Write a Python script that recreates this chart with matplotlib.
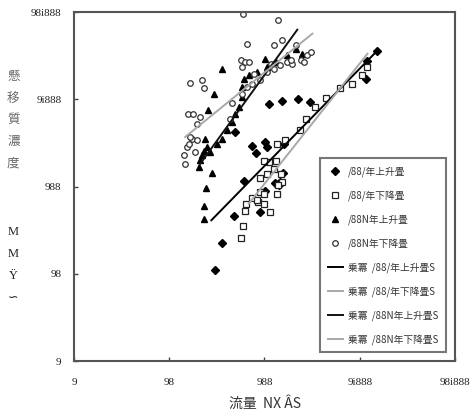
# Grafico de caudal vs concentracion de sedimentos (escala log-log).
import numpy as np
import matplotlib
matplotlib.use('Agg')
from matplotlib import pyplot as plt

# Datos: serie 1 (rombos, subida /88/)
q1 = [30.5, 36.1, 47.5, 60.6, 74.1, 82.4, 101, 107, 111, 153, 224, 298, 90.8, 101,
      128, 142, 157, 147, 1175, 1535, 1205, 49.5, 160]
c1 = [11.2, 22.8, 46.1, 117, 292, 243, 325, 285, 877, 957, 1009, 932, 51.3, 89.2,
      110, 105, 143, 113, 1694, 3575, 2723, 423, 311]

# Serie 2 (cuadrados, bajada /88/)
q2 = [57.3, 59.2, 62.1, 64.7, 74.1, 85.8, 90.8, 89.3, 98.4, 114, 107, 111, 98.4, 132,
      136, 166, 150, 153, 136, 138, 235, 270, 336, 446, 616, 824, 1050, 1205, 98.4,
      125, 83.7]
c2 = [25.6, 35.1, 52.7, 62.8, 74.8, 66.7, 86.9, 127, 62.8, 50.8, 141, 192, 195, 197,
      311, 339, 138, 113, 83.2, 104, 442, 601, 817, 1035, 1360, 1511, 1882, 2344, 83.2,
      161, 69.8]

# Serie 3 (triangulos, subida /88N)
q3 = [23.4, 23.0, 24.5, 28.1, 23.4, 23.9, 25.3, 29.3, 35.8, 101, 20.7, 21.2, 22.1,
      27.0, 31.8, 35.8, 40.5, 45.7, 49.5, 53.7, 58.2, 58.2, 60.6, 68.4, 83.7, 107, 131,
      173, 212, 249, 24.9]
c3 = [42.6, 60.6, 97.5, 143, 256, 355, 748, 1161, 2244, 2923, 168, 200, 228, 249,
      311, 355, 442, 550, 685, 817, 1064, 1384, 1725, 1882, 2056, 2344, 2675, 3190,
      3802, 3334, 285]

# Serie 4 (circulos, bajada /88N)
q4 = [59.6, 139, 65.7, 151, 127, 16.6, 22.1, 23.4, 15.6, 17.8, 21.2, 19.6, 14.2, 14.7,
      15.3, 17.3, 18.8, 16.0, 19.6, 16.6, 45.7, 43.9, 57.3, 63.1, 68.4, 58.2, 77.2, 90.8,
      107, 125, 147, 173, 196, 239, 259, 281, 305, 212, 58.2, 65.7, 74.1, 116, 188]
c4 = [9400, 8035, 4340, 4740, 4227, 1538, 1650, 1360, 685, 685, 628, 526, 228, 183,
      285, 355, 249, 311, 339, 370, 908, 601, 2797, 2675, 2675, 2344, 1968, 1650, 2056,
      2244, 2449, 2675, 2560, 2797, 2675, 3190, 3483, 4150, 1161, 1384, 1511, 2560, 2797]

# Ajustes potenciales c = a * q^b y su rango de caudal
fit_a = [1.01, 0.188, 1.83, 34.1]
fit_b = [1.116, 1.379, 1.508, 0.887]
fit_q0 = [27.7, 68.4, 21.2, 14.7]
fit_q1 = [1535, 1205, 221, 318]

labels = ['/88/年上升畳', '/88/年下降畳', '/88N年上升畳', '/88N年下降畳']
fit_labels = ['乗冪  /88/年上升畳S', '乗冪  /88/年下降畳S',
              '乗冪  /88N年上升畳S', '乗冪  /88N年下降畳S']
xticks = [1, 10, 100, 1000, 10000]
xtick_labels = ['9', '98', '988', '9i888', '98i888']
yticks = [1, 10, 100, 1000, 10000]
ytick_labels = ['9', '98', '988', '9i888', '98i888']

cjk = ['Noto Sans CJK JP', 'DejaVu Sans']
plt.rcParams['font.family'] = cjk

fig = plt.figure(figsize=(4.74, 4.16), dpi=100)
ax = fig.add_axes([0.156, 0.132, 0.804, 0.839])
ax.set_xscale('log')
ax.set_yscale('log')

h1, = ax.plot(q1, c1, 'D', ms=3.6, color='black', label=labels[0])
h2, = ax.plot(q2, c2, 's', ms=5, mfc='white', mec='#222222', mew=0.9, label=labels[1])
h3, = ax.plot(q3, c3, '^', ms=4.5, color='black', label=labels[2])
h4, = ax.plot(q4, c4, 'o', ms=4, mfc='white', mec='#333333', mew=0.9, label=labels[3])

# Lineas de ajuste
colors = ['black', '#a8a8a8', '#111111', '#a8a8a8']
fit_handles = []
for i in range(4):
    q = np.logspace(np.log10(fit_q0[i]), np.log10(fit_q1[i]), 50)
    h, = ax.plot(q, fit_a[i] * q ** fit_b[i], color=colors[i], lw=1.4, label=fit_labels[i])
    fit_handles.append(h)

ax.set_xlim(1, 10000)
ax.set_ylim(1, 10000)
ax.set_xticks(xticks)
ax.set_xticklabels(xtick_labels)
ax.set_yticks(yticks)
ax.set_yticklabels(ytick_labels)
ax.minorticks_off()
ax.tick_params(direction='in', length=3, width=1, color='#444444')
ax.tick_params(axis='x', pad=12)
ax.tick_params(axis='y', pad=9)
for lab in ax.get_xticklabels() + ax.get_yticklabels():
    lab.set_family('Liberation Serif')
    lab.set_fontsize(8)
    lab.set_color('#222222')
for s in ax.spines.values():
    s.set_color('#555555')
    s.set_linewidth(1.5)

leg = ax.legend(handles=[h1, h2, h3, h4] + fit_handles, loc='lower right',
                fontsize=7, frameon=True, fancybox=False, edgecolor='#555555',
                handlelength=1.6, handletextpad=0.5, labelspacing=1.35,
                borderpad=0.8, borderaxespad=0.9, numpoints=1)
leg.get_frame().set_linewidth(1.5)
for t in leg.get_texts():
    t.set_color('#333333')

# Etiquetas de los ejes
fig.text(0.56, 0.012, '流量  NX ÂS', ha='center', va='bottom', fontsize=10,
         color='#333333')
fig.text(0.028, 0.712, '懸\n移\n質\n濃\n度', ha='center', va='center', fontsize=9,
         color='#666666', linespacing=1.85)
fig.text(0.028, 0.363, 'M\nM\nŸ\n∽', ha='center', va='center', fontsize=9,
         color='#222222', linespacing=2.1, family=['Liberation Serif', 'DejaVu Sans'])

fig.savefig('out.png', dpi=100)
